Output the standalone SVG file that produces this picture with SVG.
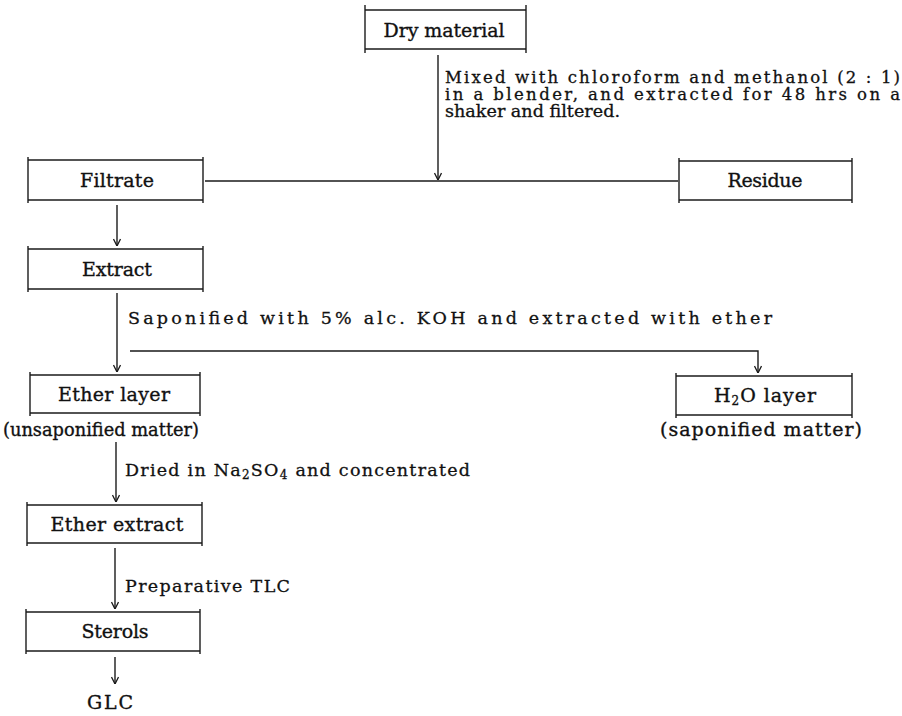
<svg xmlns="http://www.w3.org/2000/svg" width="902" height="716" viewBox="0 0 902 716">
<defs>
<style>
.bx{fill:none;stroke:#1a1a1a;stroke-width:1.4}
.cn{fill:none;stroke:#1a1a1a;stroke-width:1.4}
.lb{font-family:"DejaVu Serif","Liberation Serif",serif;font-size:19px;fill:#111;stroke:#111;stroke-width:0.35;text-anchor:middle}
.an{font-family:"DejaVu Serif","Liberation Serif",serif;font-size:17.5px;fill:#111;stroke:#111;stroke-width:0.3}
.mx{font-size:16.5px}
.sb{font-size:12px}
</style>
<marker id="ah" viewBox="0 0 10 8" refX="10" refY="4" markerWidth="10" markerHeight="8" markerUnits="userSpaceOnUse" orient="auto">
<path d="M3,0.5 L10,4 L3,7.5" fill="none" stroke="#1a1a1a" stroke-width="1.3"/>
</marker>
</defs>
<rect width="902" height="716" fill="#fff"/>

<g id="connectors">
<line class="cn" x1="438" y1="55" x2="438" y2="180" marker-end="url(#ah)"/>
<line class="cn" x1="205" y1="181" x2="678" y2="181"/>
<line class="cn" x1="117" y1="205" x2="117" y2="246" marker-end="url(#ah)"/>
<line class="cn" x1="117" y1="293" x2="117" y2="372" marker-end="url(#ah)"/>
<polyline class="cn" points="130,351 758,351 758,373" marker-end="url(#ah)"/>
<line class="cn" x1="116" y1="442" x2="116" y2="502" marker-end="url(#ah)"/>
<line class="cn" x1="115" y1="548" x2="115" y2="609" marker-end="url(#ah)"/>
<line class="cn" x1="115" y1="657" x2="115" y2="684" marker-end="url(#ah)"/>
<text class="an mx" x="445" y="83" textLength="455" lengthAdjust="spacing">Mixed with chloroform and methanol (2 : 1)</text>
<text class="an mx" x="445" y="100" textLength="455" lengthAdjust="spacing">in a blender, and extracted  for 48 hrs on a</text>
<text class="an mx" x="445" y="117" textLength="175" lengthAdjust="spacingAndGlyphs">shaker and filtered.</text>
<text class="an" x="128" y="324" textLength="644" lengthAdjust="spacing">Saponified with 5% alc. KOH and extracted with ether</text>
<text class="an" x="125" y="476" textLength="345" lengthAdjust="spacing">Dried in Na<tspan class="sb" dy="3">2</tspan><tspan dy="-3">SO</tspan><tspan class="sb" dy="3">4</tspan><tspan dy="-3"> and concentrated</tspan></text>
<text class="an" x="125" y="592" textLength="165" lengthAdjust="spacing">Preparative TLC</text>
</g>

<g id="dry-material">
<line class="bx" x1="365" y1="10" x2="526" y2="10"/><line class="bx" x1="365" y1="49" x2="526" y2="49"/>
<line class="bx" x1="365" y1="5" x2="365" y2="53"/><line class="bx" x1="526" y1="5" x2="526" y2="53"/>
<text class="lb" x="444" y="37" textLength="121" lengthAdjust="spacing">Dry material</text>
</g>

<g id="filtrate">
<line class="bx" x1="28" y1="160" x2="203" y2="160"/><line class="bx" x1="28" y1="200" x2="203" y2="200"/>
<line class="bx" x1="28" y1="157" x2="28" y2="203"/><line class="bx" x1="203" y1="157" x2="203" y2="203"/>
<text class="lb" x="117" y="187" textLength="74" lengthAdjust="spacing">Filtrate</text>
</g>

<g id="residue">
<line class="bx" x1="679" y1="161" x2="852" y2="161"/><line class="bx" x1="679" y1="200" x2="852" y2="200"/>
<line class="bx" x1="679" y1="158" x2="679" y2="203"/><line class="bx" x1="852" y1="158" x2="852" y2="203"/>
<text class="lb" x="765" y="187" textLength="75" lengthAdjust="spacing">Residue</text>
</g>

<g id="extract">
<line class="bx" x1="28" y1="249" x2="203" y2="249"/><line class="bx" x1="28" y1="289" x2="203" y2="289"/>
<line class="bx" x1="28" y1="246" x2="28" y2="292"/><line class="bx" x1="203" y1="246" x2="203" y2="292"/>
<text class="lb" x="117" y="276" textLength="70" lengthAdjust="spacing">Extract</text>
</g>

<g id="ether-layer">
<line class="bx" x1="30" y1="375" x2="200" y2="375"/><line class="bx" x1="30" y1="413" x2="200" y2="413"/>
<line class="bx" x1="30" y1="372" x2="30" y2="416"/><line class="bx" x1="200" y1="372" x2="200" y2="416"/>
<text class="lb" x="114" y="401" textLength="112" lengthAdjust="spacing">Ether layer</text>
<text class="lb" x="101" y="436" textLength="196" lengthAdjust="spacingAndGlyphs">(unsaponified matter)</text>
</g>

<g id="h2o-layer">
<line class="bx" x1="676" y1="376" x2="852" y2="376"/><line class="bx" x1="676" y1="415" x2="852" y2="415"/>
<line class="bx" x1="676" y1="373" x2="676" y2="418"/><line class="bx" x1="852" y1="373" x2="852" y2="418"/>
<text class="lb" x="765" y="402" textLength="102" lengthAdjust="spacing">H<tspan class="sb" dy="3">2</tspan><tspan dy="-3">O layer</tspan></text>
<text class="lb" x="761" y="436" textLength="202" lengthAdjust="spacing">(saponified matter)</text>
</g>

<g id="ether-extract">
<line class="bx" x1="27" y1="505" x2="202" y2="505"/><line class="bx" x1="27" y1="543" x2="202" y2="543"/>
<line class="bx" x1="27" y1="502" x2="27" y2="546"/><line class="bx" x1="202" y1="502" x2="202" y2="546"/>
<text class="lb" x="117" y="531" textLength="133" lengthAdjust="spacing">Ether extract</text>
</g>

<g id="sterols">
<line class="bx" x1="26" y1="612" x2="200" y2="612"/><line class="bx" x1="26" y1="651" x2="200" y2="651"/>
<line class="bx" x1="26" y1="609" x2="26" y2="654"/><line class="bx" x1="200" y1="609" x2="200" y2="654"/>
<text class="lb" x="115" y="638" textLength="67" lengthAdjust="spacing">Sterols</text>
</g>

<g id="glc">
<text class="lb" x="110" y="709" textLength="46" lengthAdjust="spacing">GLC</text>
</g>
</svg>
